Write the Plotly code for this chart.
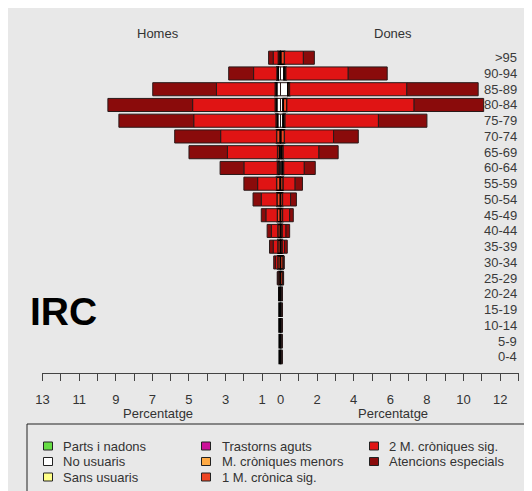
import plotly.graph_objects as go

# ---------------- data ----------------
ages = [">95", "90-94", "85-89", "80-84", "75-79", "70-74", "65-69", "60-64",
        "55-59", "50-54", "45-49", "40-44", "35-39", "30-34", "25-29",
        "20-24", "15-19", "10-14", "5-9", "0-4"]

# Homes (percent, left side)
homes_parts = [0] * 20
homes_no_usuaris = [0.03, 0.12, 0.2, 0.2, 0.15, 0.02, 0.05, 0.08, 0.02, 0,
                    0, 0, 0, 0, 0, 0, 0, 0, 0, 0]
homes_sans = [0] * 20
homes_aguts = [0] * 20
homes_menors = [0] * 20
homes_1m = [0.1, 0.08, 0.1, 0.1, 0.1, 0.2, 0.12, 0.1, 0.2, 0.2,
            0.18, 0.15, 0.15, 0.15, 0.1, 0.09, 0.08, 0.08, 0.07, 0.07]
homes_2m = [0.27, 1.27, 3.2, 4.5, 4.49, 3.05, 2.73, 1.82, 1.03, 0.85,
            0.62, 0.35, 0.25, 0.12, 0.05, 0, 0, 0, 0, 0]
homes_ae = [0.25, 1.36, 3.48, 4.63, 4.09, 2.51, 2.1, 1.3, 0.75, 0.45,
            0.25, 0.23, 0.2, 0.1, 0.03, 0, 0, 0, 0, 0]

# Dones (percent, right side)
dones_parts = [0] * 20
dones_no_usuaris = [0.02, 0.2, 0.4, 0.15, 0.15, 0.02, 0.05, 0.1, 0, 0,
                    0, 0, 0, 0, 0, 0, 0, 0, 0, 0]
dones_sans = [0] * 20
dones_aguts = [0] * 20
dones_menors = [0] * 20
dones_1m = [0.2, 0.1, 0.1, 0.2, 0.1, 0.2, 0.1, 0.08, 0.15, 0.12,
            0.12, 0.1, 0.1, 0.15, 0.12, 0.09, 0.08, 0.08, 0.07, 0.07]
dones_2m = [1.03, 3.4, 6.4, 6.95, 5.1, 2.68, 1.95, 1.12, 0.65, 0.43,
            0.38, 0.2, 0.12, 0.03, 0.03, 0, 0, 0, 0, 0]
dones_ae = [0.6, 2.13, 3.9, 3.8, 2.65, 1.35, 1.05, 0.6, 0.4, 0.32,
            0.2, 0.2, 0.15, 0.02, 0.02, 0, 0, 0, 0, 0]

categories = ["Parts i nadons", "No usuaris", "Sans usuaris", "Trastorns aguts",
              "M. cròniques menors", "1 M. crònica sig.", "2 M. cròniques sig.",
              "Atencions especials"]
colors = ["#66dd44", "#ffffff", "#ffff88", "#cc1199",
          "#ffaa44", "#ee4422", "#e01414", "#8a0b0b"]
homes_series = [homes_parts, homes_no_usuaris, homes_sans, homes_aguts,
                homes_menors, homes_1m, homes_2m, homes_ae]
dones_series = [dones_parts, dones_no_usuaris, dones_sans, dones_aguts,
                dones_menors, dones_1m, dones_2m, dones_ae]

xtick_vals = [-13, -11, -9, -7, -5, -3, -1, 0, 2, 4, 6, 8, 10, 12]
xtick_text = [str(abs(v)) for v in xtick_vals]

# ---------------- layout geometry ----------------
W, H = 532, 491
OFF = 8  # page body margin: screen coords = figure coords + 8
ML, MR, MT, MB = 34, 21, 42, 126
PW, PH = W - ML - MR, H - MT - MB
BG = "#e8e8e8"
FONT = "Liberation Sans, Arial, sans-serif"


def px(x):
    """screen x (in the photographed page) -> paper x"""
    return (x - OFF - ML) / PW


def py(y):
    """screen y (in the photographed page) -> paper y"""
    return (H - MB - (y - OFF)) / PH


fig = go.Figure()
for name, col, hv, dv in zip(categories, colors, homes_series, dones_series):
    lw = 1.6 if name == "1 M. crònica sig." else 1
    lc = "#000000" if name == "1 M. crònica sig." else "#2a1a1a"
    fig.add_trace(go.Bar(y=ages, x=[-v for v in hv], orientation="h", name=name,
                         marker=dict(color=col, line=dict(color=lc, width=lw)),
                         showlegend=False, hoverinfo="skip"))
    fig.add_trace(go.Bar(y=ages, x=dv, orientation="h", name=name,
                         marker=dict(color=col, line=dict(color=lc, width=lw)),
                         showlegend=False, hoverinfo="skip"))

fig.update_layout(
    width=W, height=H, barmode="relative", bargap=0.17,
    paper_bgcolor=BG, plot_bgcolor=BG,
    margin=dict(l=ML, r=MR, t=MT, b=MB, pad=0),
    font=dict(family=FONT, size=13, color="#333333"),
    xaxis=dict(range=[-13.03, 13.03], tickmode="array", tickvals=xtick_vals,
               ticktext=xtick_text, ticks="outside", ticklen=7, tickcolor="#444",
               showline=True, linecolor="#444", linewidth=1, showgrid=False,
               zeroline=False, ticklabelstandoff=7,
               tickfont=dict(size=13, color="#333333"),
               minor=dict(tickmode="linear", tick0=0, dtick=1, ticks="outside",
                          ticklen=7, tickcolor="#444", showgrid=False)),
    yaxis=dict(categoryorder="array", categoryarray=ages[::-1],
               range=[-1.02, 19.49], showticklabels=False,
               ticks="", showgrid=False, zeroline=False, showline=False),
)

shapes = []
ann = []

# age group labels on the right, positioned through the y axis
for a in ages:
    ann.append(dict(text=a, xref="paper", yref="y", x=px(519), y=a,
                    xanchor="right", yanchor="middle", showarrow=False,
                    font=dict(size=13, color="#3a3a3a")))

# headings
for txt, x in [("Homes", 158), ("Dones", 393)]:
    ann.append(dict(text=txt, xref="paper", yref="paper", x=px(x), y=py(33),
                    xanchor="center", yanchor="middle", showarrow=False,
                    font=dict(size=13, color="#333333")))
for x in [158, 393]:
    ann.append(dict(text="Percentatge", xref="paper", yref="paper", x=px(x), y=py(414),
                    xanchor="center", yanchor="middle", showarrow=False,
                    font=dict(size=13, color="#333333")))
ann.append(dict(text="IRC", xref="paper", yref="paper", x=px(63), y=py(311),
                xanchor="center", yanchor="middle", showarrow=False,
                font=dict(size=39, color="#000000", weight="bold")))

# legend box
shapes.append(dict(type="rect", xref="paper", yref="paper", x0=px(27), x1=px(527),
                   y0=py(505), y1=py(424), fillcolor=BG,
                   line=dict(color="#222222", width=1)))
legend_layout = [(0, 0), (0, 1), (0, 2), (1, 0), (1, 1), (1, 2), (2, 0), (2, 1)]
col_sw = [48, 206, 374]
col_tx = [61, 220, 387]
row_y = [446, 461.5, 477]
for (c, r), name, col in zip(legend_layout, categories, colors):
    cx, cy = col_sw[c], row_y[r]
    shapes.append(dict(type="rect", xref="paper", yref="paper",
                       x0=px(cx - 4.5), x1=px(cx + 4.5), y0=py(cy + 4), y1=py(cy - 4),
                       fillcolor=col, line=dict(color="#222222", width=1)))
    ann.append(dict(text=name, xref="paper", yref="paper", x=px(col_tx[c]), y=py(cy),
                    xanchor="left", yanchor="middle", showarrow=False,
                    font=dict(size=13, color="#333333")))

fig.update_layout(shapes=shapes, annotations=ann)
fig.write_html("out.html")
